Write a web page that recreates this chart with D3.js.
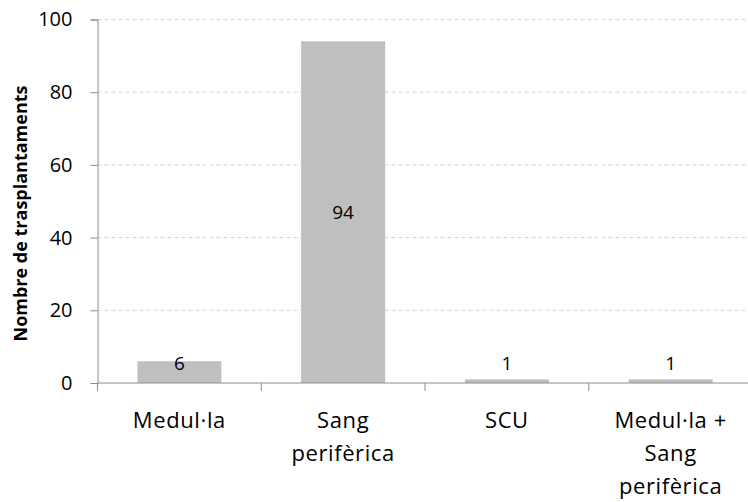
<!DOCTYPE html>
<html>
<head>
<meta charset="utf-8">
<script src="https://cdn.jsdelivr.net/npm/d3@7"></script>
<style>
  html, body { margin: 0; padding: 0; background: #fff; }
  svg { display: block; font-family: "Open Sans", "Noto Sans", sans-serif; }
</style>
</head>
<body>
<svg id="chart" width="748" height="502"></svg>
<script>
// Transplant counts by stem-cell source
const categories = [["Medul·la"], ["Sang", "perifèrica"], ["SCU"], ["Medul·la +", "Sang", "perifèrica"]];
const values = [6, 94, 1, 1];
const yTicks = [0, 20, 40, 60, 80, 100];
const yTitle = "Nombre de trasplantaments";

const svg = d3.select("#chart");
// the plot area runs a little past the right edge of the canvas
const plotLeft = 97.5, plotRight = 752.5, plotTop = 19.5, plotBottom = 383;

const x = d3.scaleBand()
  .domain(d3.range(categories.length))
  .range([plotLeft, plotRight])
  .paddingInner(0.487)
  .paddingOuter(0.2435);

const xBounds = d3.scaleLinear()
  .domain([0, categories.length])
  .range([plotLeft, plotRight]);

const y = d3.scaleLinear().domain([0, 100]).range([plotBottom, plotTop]);

// dashed gridlines
svg.append("g")
  .selectAll("line")
  .data(yTicks.filter(d => d > 0))
  .join("line")
  .attr("x1", plotLeft).attr("x2", plotRight)
  .attr("y1", d => y(d)).attr("y2", d => y(d))
  .attr("stroke", "#d4d4d4")
  .attr("stroke-width", 1)
  .attr("stroke-dasharray", "4,3");

// bars
svg.append("g")
  .selectAll("rect")
  .data(values)
  .join("rect")
  .attr("x", (d, i) => x(i))
  .attr("width", x.bandwidth())
  .attr("y", d => y(d))
  .attr("height", d => y(0) - y(d))
  .attr("fill", "#bfbfbf");

// y axis
const yAxis = d3.axisLeft(y).tickValues(yTicks).tickSize(7).tickPadding(18);
const gy = svg.append("g").attr("transform", `translate(${plotLeft},0)`).call(yAxis);
gy.select(".domain").attr("stroke", "#8c8c8c");
gy.selectAll(".tick line").attr("stroke", "#8c8c8c");
gy.selectAll(".tick text")
  .attr("font-size", 20)
  .attr("fill", "#000")
  .attr("font-family", "Open Sans, sans-serif");

// x axis baseline with ticks at category boundaries
const gx = svg.append("g");
gx.append("line")
  .attr("x1", plotLeft).attr("x2", plotRight)
  .attr("y1", plotBottom).attr("y2", plotBottom)
  .attr("stroke", "#8c8c8c");
gx.selectAll("line.tick")
  .data(d3.range(categories.length + 1))
  .join("line")
  .attr("class", "tick")
  .attr("x1", d => xBounds(d)).attr("x2", d => xBounds(d))
  .attr("y1", plotBottom).attr("y2", plotBottom + 8)
  .attr("stroke", "#8c8c8c");

// category labels (multi-line)
const catText = svg.append("g")
  .selectAll("text")
  .data(categories)
  .join("text")
  .attr("x", (d, i) => x(i) + x.bandwidth() / 2)
  .attr("y", 428)
  .attr("text-anchor", "middle")
  .attr("font-size", 22)
  .attr("letter-spacing", "0.6px")
  .attr("fill", "#000");
catText.selectAll("tspan")
  .data((d, i) => d.map(s => ({ s, i })))
  .join("tspan")
  .attr("x", d => x(d.i) + x.bandwidth() / 2)
  .attr("dy", (d, j) => j === 0 ? 0 : 33)
  .text(d => d.s);

// value labels
svg.append("g")
  .selectAll("text")
  .data(values)
  .join("text")
  .attr("x", (d, i) => x(i) + x.bandwidth() / 2)
  .attr("y", d => Math.min((y(d) + y(0)) / 2, y(0) - 20))
  .attr("dy", "0.35em")
  .attr("text-anchor", "middle")
  .attr("font-size", 19)
  .attr("fill", "#000")
  .text(d => d);

// y axis title
svg.append("text")
  .attr("transform", "translate(27,213.5) rotate(-90)")
  .attr("text-anchor", "middle")
  .attr("font-size", 18)
  .attr("font-weight", "bold")
  .attr("fill", "#000")
  .text(yTitle);
</script>
</body>
</html>
